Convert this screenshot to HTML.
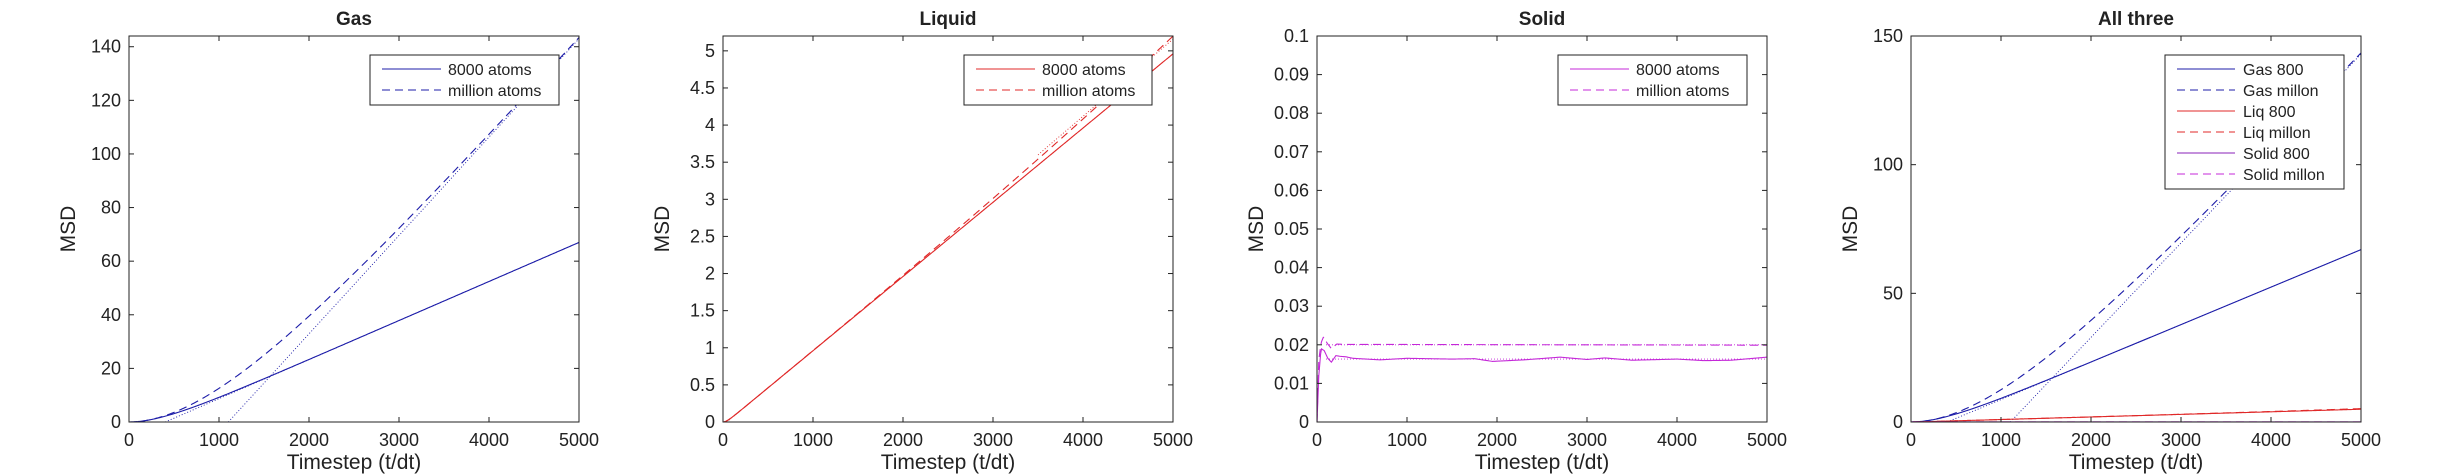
<!DOCTYPE html>
<html><head><meta charset="utf-8">
<style>
html,body{margin:0;padding:0;background:#fff;}
svg{display:block;}
text{font-family:"Liberation Sans",Arial,sans-serif;fill:#222;}
</style></head>
<body>
<svg id="s" width="2456" height="476" viewBox="0 0 2456 476" xmlns="http://www.w3.org/2000/svg"></svg>
<script>
const S=document.getElementById('s');
const NS='http://www.w3.org/2000/svg';
function el(n,a,t){const e=document.createElementNS(NS,n);for(const k in a)e.setAttribute(k,a[k]);if(t!==undefined)e.textContent=t;S.appendChild(e);return e;}
const T=36,B=422,W=450;
const BLUE='#1c1ca8',RED='#e02828',MAG='#c428d8',PUR='#8a22b8';
function gas8(t){return 0.01457*(t-402*(1-Math.exp(-t/402)));}
function gasM(t){return 0.0367*(t-1104*(1-Math.exp(-t/1104)));}
function liq8(t){return 0.001*(t-40*(1-Math.exp(-t/40)));}
function liqM(t){return liq8(t)+0.22*Math.pow(t/4870,3);}
function interp(pts,t){for(let i=1;i<pts.length;i++){if(t<=pts[i][0]){const a=pts[i-1],b=pts[i];return a[1]+(b[1]-a[1])*(t-a[0])/(b[0]-a[0]);}}return pts[pts.length-1][1];}
const s8p=[[0,0],[20,0.012],[45,0.019],[80,0.0185],[120,0.0165],[160,0.0155],[210,0.0172],[260,0.017],[320,0.0169],[400,0.0165],[700,0.0161],[1000,0.0165],[1500,0.0163],[1750,0.0164],[1950,0.0157],[2300,0.0161],[2700,0.0168],[3000,0.0162],[3200,0.0166],[3500,0.016],[4000,0.0163],[4300,0.0159],[4600,0.016],[5000,0.0168]];
const sMp=[[0,0],[20,0.016],[45,0.0205],[75,0.0222],[110,0.0205],[160,0.019],[220,0.0202],[300,0.0201],[600,0.0201],[5000,0.0199]];
function sol8(t){return interp(s8p,t);}
function solM(t){return interp(sMp,t);}
function panel(L,ymax,ticks,fmt,title,curves,legend){
  const sx=t=>L+t/5000*W, sy=v=>B-v/ymax*(B-T);
  const cid='c'+L;
  const cp=el('clipPath',{id:cid});
  const r=document.createElementNS(NS,'rect');r.setAttribute('x',L);r.setAttribute('y',T);r.setAttribute('width',W);r.setAttribute('height',B-T);cp.appendChild(r);
  for(const c of curves){
    let d='';const t0=c.t0||0;
    for(let i=0;i<=500;i++){const t=t0+(5000-t0)*i/500;d+=(i?'L':'M')+sx(t).toFixed(2)+' '+sy(c.f(t)).toFixed(2);}
    const a={d:d,fill:'none',stroke:c.col,'stroke-width':c.w||1.1,'clip-path':'url(#'+cid+')'};
    if(c.dash)a['stroke-dasharray']=c.dash;
    el('path',a);
  }
  el('rect',{x:L,y:T,width:W,height:B-T,fill:'none',stroke:'#222','stroke-width':1});
  for(let i=0;i<=5;i++){const x=L+i*W/5;
    el('line',{x1:x,y1:B,x2:x,y2:B-5,stroke:'#222'});el('line',{x1:x,y1:T,x2:x,y2:T+5,stroke:'#222'});
    el('text',{x:x,y:446,'font-size':18,'text-anchor':'middle'},String(i*1000));}
  for(const v of ticks){const y=sy(v);
    el('line',{x1:L,y1:y,x2:L+5,y2:y,stroke:'#222'});el('line',{x1:L+W,y1:y,x2:L+W-5,y2:y,stroke:'#222'});
    el('text',{x:L-8,y:y+6,'font-size':18,'text-anchor':'end'},fmt(v));}
  el('text',{x:L+W/2,y:25,'font-size':19,'font-weight':'bold','text-anchor':'middle',fill:'#000'},title);
  el('text',{x:L+W/2,y:469,'font-size':21,'text-anchor':'middle'},'Timestep (t/dt)');
  el('text',{x:0,y:0,'font-size':21,'text-anchor':'middle',transform:'translate('+(L-54)+' '+((T+B)/2)+') rotate(-90)'},'MSD');
  const lx=legend.x,lw=legend.w,n=legend.items.length,lh=21;
  el('rect',{x:lx,y:55,width:lw,height:n*lh+8,fill:'#fff',stroke:'#222'});
  legend.items.forEach((it,i)=>{const y=69+i*lh;
    const a={x1:lx+legend.l1,y1:y,x2:lx+legend.l2,y2:y,stroke:it.col,'stroke-width':1.1};if(it.dash)a['stroke-dasharray']='8 5';
    el('line',a);
    el('text',{x:lx+legend.tx,y:y+6,'font-size':16},it.t);});
}
const r=n=>Array.from({length:n},(_,i)=>i);
panel(129,144,r(8).map(i=>i*20),v=>String(v),'Gas',[
 {f:gas8,col:BLUE},{f:gasM,col:BLUE,dash:'8 5'},
 {f:t=>0.01457*(t-402),col:BLUE,dash:'1 2',w:0.9,t0:402},
 {f:t=>0.0367*(t-1104),col:BLUE,dash:'1 2',w:0.9,t0:1104}],
 {x:370,w:189,l1:12,l2:71,tx:78,items:[{t:'8000 atoms',col:BLUE},{t:'million atoms',col:BLUE,dash:1}]});
panel(723,5.2,r(11).map(i=>i*0.5),v=>String(Math.round(v*10)/10),'Liquid',[
 {f:liq8,col:RED},{f:liqM,col:RED,dash:'8 5'},
 {f:t=>0.001*(t-40),col:RED,dash:'1 2',w:0.9,t0:40},
 {f:t=>0.00104*(t-40),col:RED,dash:'1 2',w:0.9,t0:3500}],
 {x:964,w:188,l1:12,l2:71,tx:78,items:[{t:'8000 atoms',col:RED},{t:'million atoms',col:RED,dash:1}]});
panel(1317,0.1,r(11).map(i=>i*0.01),v=>v===0?'0':(v>=0.099?'0.1':v.toFixed(2)),'Solid',[
 {f:sol8,col:MAG},{f:solM,col:MAG,dash:'8 5'},
 {f:t=>0.0163,col:MAG,dash:'1 2',w:0.9,t0:100},
 {f:t=>0.02,col:MAG,dash:'1 2',w:0.9,t0:100}],
 {x:1558,w:189,l1:12,l2:71,tx:78,items:[{t:'8000 atoms',col:MAG},{t:'million atoms',col:MAG,dash:1}]});
panel(1911,150,[0,50,100,150],v=>String(v),'All three',[
 {f:gas8,col:BLUE},{f:gasM,col:BLUE,dash:'8 5'},
 {f:t=>0.01457*(t-402),col:BLUE,dash:'1 2',w:0.9,t0:402},
 {f:t=>0.0367*(t-1104),col:BLUE,dash:'1 2',w:0.9,t0:1104},
 {f:liq8,col:RED},{f:liqM,col:RED,dash:'8 5'},
 {f:sol8,col:PUR},{f:solM,col:MAG,dash:'8 5'}],
 {x:2165,w:179,l1:12,l2:70,tx:78,items:[{t:'Gas 800',col:BLUE},{t:'Gas millon',col:BLUE,dash:1},{t:'Liq 800',col:RED},{t:'Liq millon',col:RED,dash:1},{t:'Solid 800',col:PUR},{t:'Solid millon',col:MAG,dash:1}]});
</script>
</body></html>
